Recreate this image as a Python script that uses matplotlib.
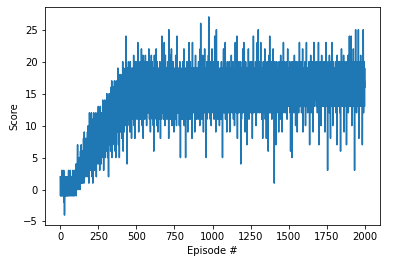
"""Score per episode for the agent training run."""

import matplotlib
import matplotlib.pyplot as plt
import numpy as np

matplotlib.use("Agg")

# Score of every episode, 25 episodes per row
scores = [
    2, 0, -1, 1, 2, 0, 1, -1, 0, 2, 1, 3, 0, -1, 1, 2, 0, 0, 1, -1, 2, 1, 0, 3, -1,
    0, -2, 1, -4, 0, 1, -1, 2, 0, 1, 0, -1, 1, 2, 0, 1, 0, -1, 1, 0, 2, 1, -1, 0, 1,
    1, 0, 2, -1, 1, 3, 0, 1, 2, 0, -1, 1, 0, 2, 1, 0, 3, 1, 0, -1, 2, 1, 0, 1, 2,
    0, 1, -1, 2, 1, 0, 2, 3, 0, 1, -1, 0, 2, 1, 0, 1, 2, -1, 0, 3, 1, 2, 0, 1, 2,
    1, 3, 0, 2, 4, -1, 1, 3, 2, 0, 4, 1, 2, 5, 7, 0, 3, 1, 2, 4, 1, 5, 2, 3, 0,
    2, 4, 1, 3, 5, 2, 0, 4, 6, 3, 1, 5, 2, 7, 3, 1, 4, 2, 6, 3, 5, 1, 4, 2, 6,
    3, 5, 2, 8, 4, 6, 1, 5, 9, 3, 4, 7, 2, 6, 5, 3, 8, 4, 2, 6, 5, 7, 3, 4, 8,
    5, 3, 7, 4, 9, 2, 6, 8, 4, 10, 3, 7, 5, 1, 6, 9, 4, 12, 7, 3, 8, 5, 11, 6, 4,
    8, 5, 10, 3, 7, 12, 6, 4, 9, 2, 8, 11, 5, 7, 1, 10, 6, 9, 4, 8, 12, 5, 7, 3, 9,
    6, 10, 4, 8, 11, 5, 9, 3, 7, 12, 6, 8, 2, 10, 5, 9, 11, 4, 7, 10, 6, 8, 12, 5, 9,
    13, 7, 10, 4, 9, 11, 6, 8, 12, 3, 10, 7, 9, 13, 5, 8, 11, 6, 10, 4, 9, 12, 7, 11, 8,
    10, 6, 12, 8, 14, 5, 9, 11, 7, 13, 3, 10, 8, 12, 6, 11, 9, 14, 7, 10, 5, 12, 8, 13, 9,
    11, 8, 14, 6, 12, 10, 15, 7, 11, 9, 13, 5, 10, 12, 8, 14, 9, 2, 11, 13, 7, 10, 15, 8, 12,
    9, 13, 7, 12, 15, 10, 6, 14, 11, 16, 8, 12, 10, 17, 5, 13, 11, 9, 15, 12, 7, 14, 10, 16, 12,
    14, 10, 16, 8, 13, 11, 17, 9, 12, 15, 6, 13, 10, 16, 12, 5, 14, 11, 17, 9, 13, 15, 10, 12, 16,
    12, 15, 9, 19, 13, 10, 16, 7, 14, 12, 17, 11, 15, 5, 13, 16, 10, 18, 12, 14, 9, 16, 11, 17, 13,
    15, 11, 17, 13, 8, 16, 12, 18, 14, 10, 20, 13, 15, 6, 17, 12, 14, 19, 11, 16, 9, 15, 13, 18, 12,
    14, 17, 12, 16, 10, 19, 24, 13, 16, 11, 18, 14, 12, 17, 4, 15, 13, 19, 10, 16, 14, 18, 12, 20, 15,
    13, 17, 11, 19, 15, 12, 18, 9, 16, 14, 20, 13, 17, 10, 15, 18, 12, 16, 8, 14, 19, 13, 17, 11, 16,
    17, 13, 19, 15, 11, 18, 14, 21, 12, 16, 10, 17, 15, 19, 13, 8, 16, 18, 14, 20, 12, 17, 15, 11, 18,
    16, 19, 12, 17, 14, 20, 13, 18, 15, 23, 11, 16, 19, 14, 17, 9, 15, 20, 13, 18, 16, 12, 19, 15, 17,
    14, 18, 11, 16, 20, 13, 17, 15, 22, 12, 18, 14, 16, 10, 19, 15, 17, 13, 21, 16, 8, 18, 14, 17, 15,
    18, 13, 16, 20, 15, 11, 19, 14, 17, 21, 12, 16, 18, 15, 13, 20, 17, 10, 16, 19, 14, 18, 12, 17, 15,
    16, 20, 14, 18, 12, 17, 15, 22, 13, 19, 16, 11, 18, 14, 17, 20, 15, 9, 16, 19, 13, 17, 15, 21, 14,
    16, 12, 18, 14, 20, 11, 17, 15, 13, 19, 16, 10, 14, 18, 6, 15, 17, 12, 21, 14, 16, 11, 18, 15, 13,
    17, 14, 19, 12, 16, 22, 13, 15, 18, 10, 16, 14, 20, 12, 17, 15, 9, 18, 13, 16, 19, 14, 11, 17, 15,
    14, 18, 12, 16, 20, 13, 17, 15, 8, 19, 14, 16, 12, 18, 15, 11, 17, 24, 13, 16, 14, 19, 12, 17, 15,
    16, 13, 19, 15, 11, 18, 14, 17, 23, 12, 16, 14, 10, 18, 15, 21, 13, 17, 14, 16, 11, 19, 15, 18, 13,
    15, 19, 12, 17, 14, 20, 16, 11, 18, 13, 15, 17, 8, 25, 14, 16, 19, 12, 15, 18, 13, 17, 14, 21, 11,
    17, 14, 18, 12, 16, 22, 15, 13, 19, 10, 16, 14, 18, 15, 11, 17, 20, 13, 16, 14, 19, 9, 15, 17, 13,
    14, 18, 16, 11, 19, 15, 13, 17, 21, 12, 16, 14, 18, 10, 15, 17, 13, 24, 14, 16, 12, 18, 15, 19, 13,
    16, 12, 17, 15, 19, 13, 18, 10, 16, 14, 20, 15, 12, 17, 5, 16, 14, 18, 13, 19, 15, 11, 17, 14, 18,
    15, 13, 18, 16, 11, 20, 14, 17, 12, 19, 15, 13, 22, 16, 10, 18, 14, 17, 12, 15, 19, 13, 16, 5, 17,
    14, 19, 12, 16, 18, 13, 15, 20, 11, 17, 14, 16, 9, 18, 15, 13, 19, 16, 12, 17, 14, 23, 15, 11, 18,
    16, 13, 17, 14, 20, 12, 15, 18, 11, 16, 19, 14, 17, 13, 15, 8, 18, 16, 23, 14, 12, 17, 15, 19, 13,
    15, 18, 12, 16, 14, 19, 13, 17, 9, 15, 18, 14, 16, 21, 12, 17, 15, 13, 19, 11, 16, 14, 18, 15, 12,
    17, 14, 19, 13, 16, 11, 18, 15, 20, 14, 12, 17, 16, 13, 19, 15, 10, 18, 14, 22, 16, 12, 26, 15, 17,
    13, 16, 18, 14, 11, 19, 15, 17, 12, 16, 21, 14, 18, 13, 15, 9, 17, 14, 19, 16, 12, 18, 15, 22, 13,
    16, 14, 18, 12, 17, 15, 19, 13, 5, 16, 18, 14, 20, 11, 17, 15, 13, 19, 16, 12, 18, 14, 17, 21, 15,
    27, 13, 17, 15, 19, 12, 16, 18, 14, 20, 11, 17, 15, 13, 19, 16, 10, 18, 14, 17, 12, 22, 15, 16, 13,
    18, 14, 16, 20, 12, 17, 15, 19, 13, 16, 11, 18, 14, 17, 24, 15, 12, 19, 16, 14, 18, 9, 17, 15, 13,
    25, 15, 12, 18, 16, 14, 19, 13, 17, 11, 16, 20, 15, 18, 12, 17, 14, 19, 13, 16, 10, 18, 15, 17, 14,
    16, 19, 13, 17, 15, 11, 18, 14, 20, 12, 16, 17, 15, 13, 19, 5, 16, 14, 18, 12, 17, 15, 22, 13, 16,
    14, 18, 16, 12, 19, 15, 17, 13, 23, 14, 11, 18, 16, 15, 19, 12, 17, 14, 9, 18, 16, 13, 20, 15, 17,
    15, 13, 19, 16, 12, 18, 14, 17, 15, 20, 13, 16, 11, 9, 18, 15, 17, 14, 19, 12, 16, 18, 14, 21, 15,
    17, 14, 18, 12, 16, 19, 15, 13, 17, 20, 14, 16, 11, 18, 15, 17, 13, 19, 16, 10, 18, 14, 17, 15, 23,
    14, 17, 15, 19, 13, 16, 18, 12, 17, 15, 24, 14, 16, 8, 18, 13, 19, 15, 17, 14, 12, 18, 16, 20, 15,
    16, 13, 18, 15, 19, 12, 17, 14, 16, 20, 4, 15, 18, 13, 17, 11, 16, 19, 14, 18, 15, 12, 17, 22, 14,
    15, 18, 13, 17, 16, 23, 14, 12, 18, 15, 19, 13, 17, 9, 16, 18, 14, 20, 15, 12, 17, 16, 19, 13, 18,
    7, 16, 14, 18, 12, 17, 15, 19, 13, 16, 22, 14, 18, 15, 11, 17, 13, 19, 16, 14, 18, 12, 20, 15, 17,
    14, 17, 15, 19, 12, 16, 18, 13, 20, 15, 17, 8, 16, 14, 19, 18, 13, 15, 24, 12, 17, 16, 14, 18, 15,
    17, 13, 19, 16, 14, 18, 12, 20, 15, 17, 10, 16, 18, 14, 19, 13, 17, 15, 23, 14, 16, 12, 18, 15, 20,
    25, 15, 18, 13, 17, 14, 19, 16, 12, 18, 15, 20, 14, 17, 13, 16, 23, 15, 19, 12, 17, 14, 18, 11, 16,
    15, 19, 13, 17, 8, 16, 18, 14, 20, 15, 12, 17, 19, 14, 16, 13, 18, 15, 22, 14, 17, 11, 16, 19, 15,
    18, 14, 16, 8, 19, 13, 17, 15, 20, 12, 16, 18, 14, 17, 15, 6, 19, 16, 13, 18, 15, 21, 14, 17, 12,
    24, 16, 14, 18, 12, 17, 15, 19, 13, 16, 20, 14, 18, 15, 11, 17, 19, 13, 16, 14, 18, 15, 22, 12, 17,
    16, 13, 18, 15, 19, 1, 17, 14, 16, 20, 12, 18, 15, 17, 13, 19, 16, 7, 14, 18, 15, 20, 13, 17, 14,
    18, 15, 17, 13, 19, 16, 12, 18, 14, 9, 17, 15, 20, 13, 16, 18, 14, 19, 15, 11, 17, 16, 21, 14, 18,
    15, 19, 13, 17, 14, 20, 16, 9, 18, 15, 17, 13, 19, 16, 14, 23, 15, 18, 12, 17, 14, 20, 16, 13, 18,
    16, 14, 19, 15, 17, 12, 18, 14, 20, 16, 13, 17, 15, 19, 11, 18, 14, 16, 22, 15, 17, 13, 18, 16, 14,
    17, 15, 19, 13, 18, 16, 14, 20, 15, 17, 12, 18, 6, 16, 19, 14, 17, 15, 13, 18, 16, 20, 5, 15, 17,
    14, 18, 16, 20, 13, 17, 15, 19, 12, 16, 18, 14, 21, 15, 17, 13, 19, 16, 14, 18, 10, 17, 15, 20, 16,
    18, 14, 17, 15, 19, 16, 9, 18, 13, 17, 15, 20, 14, 16, 19, 12, 17, 15, 18, 14, 23, 16, 13, 19, 15,
    16, 19, 14, 17, 15, 20, 13, 18, 16, 12, 19, 15, 17, 14, 18, 16, 22, 13, 9, 17, 15, 19, 14, 16, 18,
    15, 17, 13, 19, 16, 14, 18, 20, 15, 17, 10, 16, 19, 14, 18, 15, 23, 13, 17, 16, 14, 19, 15, 18, 12,
    17, 14, 19, 16, 15, 18, 13, 17, 20, 15, 16, 14, 7, 18, 16, 19, 13, 17, 15, 21, 14, 18, 16, 12, 17,
    15, 19, 14, 17, 16, 20, 13, 18, 15, 17, 9, 19, 16, 14, 18, 15, 23, 13, 17, 16, 14, 19, 15, 18, 16,
    18, 14, 17, 15, 20, 16, 13, 19, 15, 17, 14, 18, 16, 12, 20, 15, 17, 14, 19, 16, 23, 13, 18, 15, 7,
    16, 19, 15, 17, 13, 18, 16, 20, 14, 17, 15, 10, 19, 16, 18, 14, 21, 15, 17, 13, 18, 16, 14, 19, 15,
    17, 14, 18, 16, 20, 15, 13, 19, 17, 14, 18, 16, 9, 20, 15, 17, 14, 19, 16, 23, 13, 18, 15, 17, 14,
    16, 19, 15, 17, 14, 3, 18, 16, 20, 13, 17, 15, 19, 14, 18, 16, 12, 21, 15, 17, 14, 19, 16, 13, 8,
    18, 15, 17, 20, 14, 16, 19, 13, 17, 15, 23, 16, 14, 18, 10, 17, 15, 20, 16, 13, 19, 15, 17, 14, 18,
    15, 19, 16, 13, 18, 14, 17, 20, 15, 16, 12, 19, 17, 14, 18, 15, 7, 16, 21, 14, 17, 15, 19, 13, 16,
    17, 14, 18, 15, 20, 16, 13, 19, 17, 14, 18, 12, 16, 20, 15, 6, 17, 14, 19, 16, 13, 22, 15, 18, 14,
    16, 19, 14, 17, 15, 20, 13, 18, 16, 14, 21, 15, 17, 9, 19, 16, 14, 18, 15, 20, 13, 17, 16, 14, 19,
    15, 17, 14, 18, 7, 16, 20, 15, 17, 13, 19, 16, 14, 18, 15, 21, 12, 17, 16, 19, 14, 18, 15, 24, 13,
    17, 15, 19, 14, 18, 16, 20, 13, 17, 15, 24, 14, 18, 16, 10, 19, 15, 17, 14, 20, 16, 13, 18, 15, 22,
    14, 18, 16, 19, 15, 17, 13, 3, 16, 18, 15, 20, 14, 17, 25, 13, 16, 19, 15, 18, 12, 17, 14, 20, 16,
    18, 15, 17, 13, 19, 16, 14, 25, 15, 17, 8, 18, 16, 20, 14, 17, 15, 19, 13, 18, 16, 14, 21, 15, 17,
    16, 19, 14, 17, 15, 20, 13, 18, 7, 16, 19, 15, 17, 14, 25, 16, 12, 18, 15, 20, 14, 17, 13, 19, 16,
]


def plot_scores(scores, output_file="out.png"):
    """Line plot of score against episode number."""
    fig = plt.figure(figsize=(406 / 72, 262 / 72), dpi=72)
    ax = fig.add_axes([45 / 406, 37 / 262, 335 / 406, 218 / 262])

    ax.plot(np.arange(len(scores)), scores)

    ax.set_ylabel("Score")
    ax.set_xlabel("Episode #")

    fig.savefig(output_file, dpi=72)
    plt.close(fig)


if __name__ == "__main__":
    plot_scores(scores)
